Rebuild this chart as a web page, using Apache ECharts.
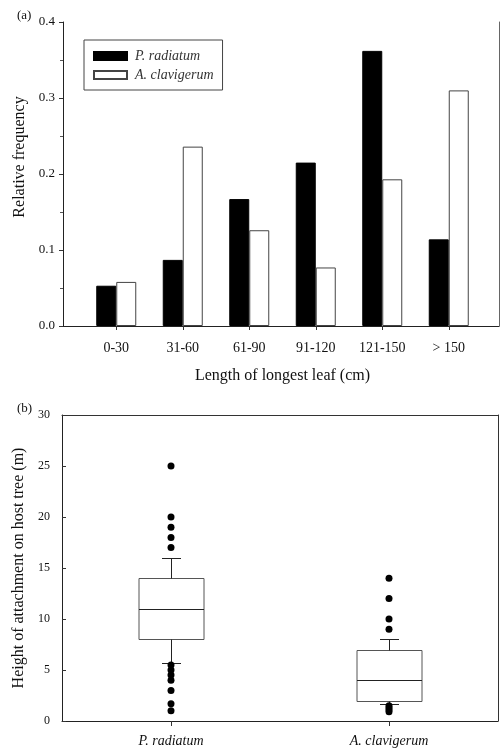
<!DOCTYPE html>
<html>
<head>
<meta charset="utf-8">
<script src="https://cdn.jsdelivr.net/npm/echarts@6/dist/echarts.min.js"></script>
<style>
html,body{margin:0;padding:0;background:#fff;}
#chart{width:502px;height:752px;}
</style>
</head>
<body>
<div id="chart"></div>
<script>
// ---- Panel (a): leaf length histogram ----
const leafCategories = ['0-30', '31-60', '61-90', '91-120', '121-150', '> 150'];
const pRadiatumFreq = [0.053, 0.087, 0.167, 0.215, 0.362, 0.114];
const aClavigerumFreq = [0.058, 0.236, 0.126, 0.077, 0.193, 0.310];
const freqTicks = [0.0, 0.1, 0.2, 0.3, 0.4];

// ---- Panel (b): height of attachment box plot ----
const speciesCategories = ['P. radiatum', 'A. clavigerum'];
// [lower whisker, Q1, median, Q3, upper whisker]
const pRadiatumBox = [5.7, 8, 11, 14, 16];
const aClavigerumBox = [1.7, 2, 4, 7, 8];
const pRadiatumOutliers = [25, 20, 19, 18, 17, 5.5, 5.0, 4.5, 4.0, 3.0, 1.7, 1.0];
const aClavigerumOutliers = [14, 12, 10, 9, 1.5, 1.3, 1.1, 0.9];
const heightTicks = [0, 5, 10, 15, 20, 25, 30];

const FONT = 'Liberation Serif';
const TXT = '#111';

const boxData = [pRadiatumBox, aClavigerumBox].map((b, i) => [i].concat(b));
const outlierData = []
  .concat(pRadiatumOutliers.map(v => [0, v]))
  .concat(aClavigerumOutliers.map(v => [1, v]));

function renderBox(params, api) {
  const idx = api.value(0);
  const pts = [1, 2, 3, 4, 5].map(d => api.coord([idx, api.value(d)]));
  const cx = Math.round(pts[0][0]) + 0.5;
  const hw = 32.5, cap = 9.5;
  const yMin = Math.round(pts[0][1]) + 0.5, yQ1 = Math.round(pts[1][1]) + 0.5,
        yMed = Math.round(pts[2][1]) + 0.5, yQ3 = Math.round(pts[3][1]) + 0.5,
        yMax = Math.round(pts[4][1]) + 0.5;
  const ls = { stroke: '#222', lineWidth: 1, fill: null };
  return {
    type: 'group',
    children: [
      { type: 'rect', shape: { x: cx - hw, y: yQ3, width: 2 * hw, height: yQ1 - yQ3 },
        style: { fill: '#fff', stroke: '#555', lineWidth: 1 } },
      { type: 'line', shape: { x1: cx - hw, y1: yMed, x2: cx + hw, y2: yMed }, style: ls },
      { type: 'line', shape: { x1: cx, y1: yQ3, x2: cx, y2: yMax }, style: ls },
      { type: 'line', shape: { x1: cx - cap, y1: yMax, x2: cx + cap, y2: yMax }, style: ls },
      { type: 'line', shape: { x1: cx, y1: yQ1, x2: cx, y2: yMin }, style: ls },
      { type: 'line', shape: { x1: cx - cap, y1: yMin, x2: cx + cap, y2: yMin }, style: ls }
    ]
  };
}

const chart = echarts.init(document.getElementById('chart'), null, { renderer: 'canvas' });

const option = {
  backgroundColor: '#fff',
  animation: false,
  textStyle: { fontFamily: FONT, color: TXT },
  title: [
    { text: '(a)', left: 12, top: 4, textStyle: { fontFamily: FONT, fontSize: 13, fontWeight: 'normal', color: TXT } },
    { text: '(b)', left: 12, top: 397, textStyle: { fontFamily: FONT, fontSize: 13, fontWeight: 'normal', color: TXT } }
  ],
  legend: {
    data: ['P. radiatum', 'A. clavigerum'],
    orient: 'vertical',
    left: 84,
    top: 40,
    padding: [9, 9, 8, 9],
    itemGap: 5,
    itemWidth: 33,
    itemHeight: 8,
    borderColor: '#444',
    borderWidth: 1,
    icon: 'rect',
    textStyle: { fontFamily: FONT, fontStyle: 'italic', fontSize: 14, color: '#333', lineHeight: 14, padding: [0, 0, 0, 3] }
  },
  grid: [
    { left: 63, right: 3, top: 22, bottom: 426 },
    { left: 83, right: 20, top: 22, bottom: 426 },
    { left: 62, right: 4, top: 415, bottom: 31 }
  ],
  xAxis: [
    { gridIndex: 0, type: 'value', min: 0, max: 1,
      axisLine: { show: true, onZero: false, lineStyle: { color: '#222', width: 1 } },
      axisTick: { show: false }, axisLabel: { show: false }, splitLine: { show: false } },
    { gridIndex: 1, type: 'category', data: leafCategories,
      axisLine: { show: false, onZero: false },
      axisTick: { show: true, alignWithLabel: true, length: 4, lineStyle: { color: '#333' } },
      axisLabel: { fontFamily: FONT, fontSize: 14, color: TXT, margin: 15 },
      name: 'Length of longest leaf (cm)', nameLocation: 'middle', nameGap: 42,
      nameTextStyle: { fontFamily: FONT, fontSize: 16, color: TXT } },
    { gridIndex: 2, type: 'category', data: speciesCategories,
      axisLine: { show: true, onZero: false, lineStyle: { color: '#222', width: 1 } },
      axisTick: { show: true, alignWithLabel: true, length: 5, lineStyle: { color: '#333' } },
      axisLabel: { fontFamily: FONT, fontStyle: 'italic', fontSize: 14, color: TXT, margin: 13 } },
    { gridIndex: 2, type: 'value', position: 'top', min: 0, max: 1,
      axisLine: { show: true, onZero: false, lineStyle: { color: '#333', width: 1 } },
      axisTick: { show: false }, axisLabel: { show: false }, splitLine: { show: false } }
  ],
  yAxis: [
    { gridIndex: 0, type: 'value', min: 0, max: 0.4, interval: 0.1,
      axisLine: { show: true, onZero: false, lineStyle: { color: '#222', width: 1 } },
      axisTick: { show: true, length: 4, lineStyle: { color: '#333' } },
      minorTick: { show: true, splitNumber: 2, length: 3, lineStyle: { color: '#555' } },
      axisLabel: { fontFamily: FONT, fontSize: 13, color: TXT, margin: 8, formatter: v => v.toFixed(1) },
      splitLine: { show: false },
      name: 'Relative frequency', nameLocation: 'middle', nameGap: 35,
      nameTextStyle: { fontFamily: FONT, fontSize: 16, color: TXT, padding: [0, 0, 0, 34] } },
    { gridIndex: 0, type: 'value', position: 'right', min: 0, max: 1,
      axisLine: { show: true, onZero: false, lineStyle: { color: '#666', width: 1 } },
      axisTick: { show: false }, axisLabel: { show: false }, splitLine: { show: false } },
    { gridIndex: 1, type: 'value', min: 0, max: 0.4, show: false, splitLine: { show: false } },
    { gridIndex: 2, type: 'value', min: 0, max: 30, interval: 5,
      axisLine: { show: true, onZero: false, lineStyle: { color: '#222', width: 1 } },
      axisTick: { show: true, inside: true, length: 4, lineStyle: { color: '#333' } },
      axisLabel: { fontFamily: FONT, fontSize: 12, color: TXT, margin: 12 },
      splitLine: { show: false },
      name: 'Height of attachment on host tree (m)', nameLocation: 'middle', nameGap: 34,
      nameTextStyle: { fontFamily: FONT, fontSize: 16, color: TXT } },
    { gridIndex: 2, type: 'value', position: 'right', min: 0, max: 1,
      axisLine: { show: true, onZero: false, lineStyle: { color: '#333', width: 1 } },
      axisTick: { show: false }, axisLabel: { show: false }, splitLine: { show: false } }
  ],
  series: [
    { name: 'P. radiatum', type: 'bar', xAxisIndex: 1, yAxisIndex: 2, data: pRadiatumFreq,
      barWidth: 20, barGap: '0%',
      itemStyle: { color: '#000', borderColor: '#000', borderWidth: 1 } },
    { name: 'A. clavigerum', type: 'bar', xAxisIndex: 1, yAxisIndex: 2, data: aClavigerumFreq,
      barWidth: 20, barGap: '0%',
      itemStyle: { color: '#fff', borderColor: '#444', borderWidth: 1 } },
    { name: 'box', type: 'custom', xAxisIndex: 2, yAxisIndex: 3, data: boxData,
      encode: { x: 0, y: [1, 2, 3, 4, 5] }, renderItem: renderBox, z: 2 },
    { name: 'outliers', type: 'scatter', xAxisIndex: 2, yAxisIndex: 3, data: outlierData,
      symbol: 'circle', symbolSize: 7, itemStyle: { color: '#000', opacity: 1 }, z: 5 }
  ]
};

chart.setOption(option);
</script>
</body>
</html>
